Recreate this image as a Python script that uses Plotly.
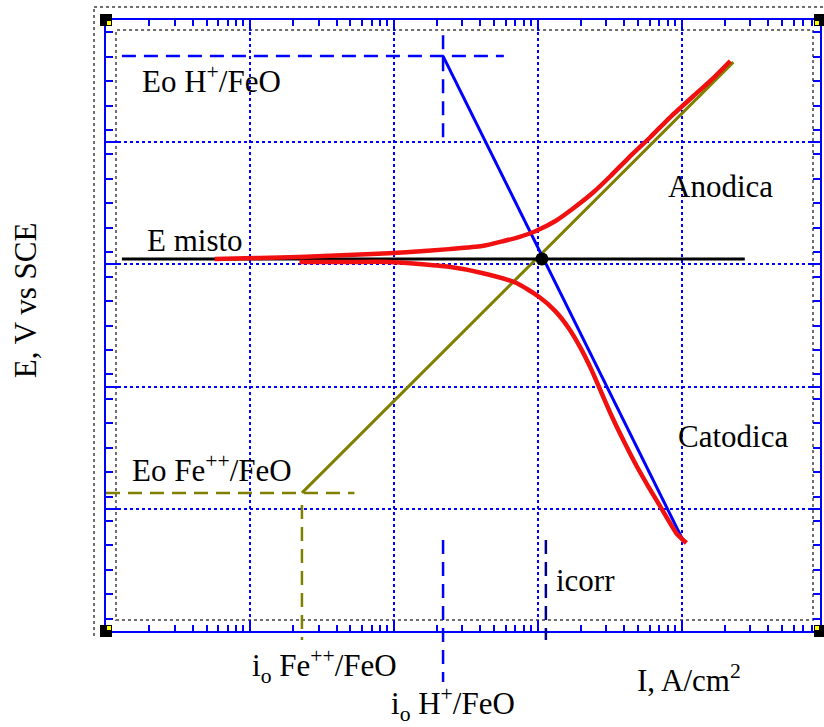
import plotly.graph_objects as go

# ---------------- data (current density A/cm2, potential V vs SCE) ----------------
anod_i = [5.69e-9, 1.17e-8, 2.21e-8, 7.08e-8, 1.22e-7, 2.42e-7, 4.10e-7, 5.82e-7, 7.40e-7,
          9.70e-7, 1.33e-6, 1.78e-6, 2.45e-6, 3.21e-6, 4.27e-6, 6.08e-6, 8.36e-6, 1.21e-5,
          1.69e-5, 2.18e-5]
anod_E = [-0.491, -0.4895, -0.488, -0.483, -0.480, -0.475, -0.470, -0.4617, -0.4552,
          -0.4453, -0.429, -0.4077, -0.3815, -0.3553, -0.3259, -0.2915, -0.2588, -0.2244,
          -0.1933, -0.1671]

cat_i = [2.21e-8, 4.91e-8, 9.29e-8, 1.43e-7, 2.42e-7, 4.10e-7, 7.05e-7, 1.02e-6, 1.32e-6,
         1.64e-6, 1.99e-6, 2.37e-6, 2.78e-6, 3.31e-6, 4.02e-6, 4.87e-6, 5.89e-6, 7.02e-6,
         8.10e-6, 9.20e-6, 1.08e-5]
cat_E = [-0.496, -0.496, -0.496, -0.499, -0.504, -0.514, -0.530, -0.553, -0.576,
         -0.604, -0.637, -0.673, -0.7105, -0.751, -0.792, -0.830, -0.864, -0.894,
         -0.919, -0.940, -0.956]

h_tafel_i = [2.2e-7, 1.03e-5]
h_tafel_E = [-0.159, -0.953]
fe_tafel_i = [2.3e-8, 2.29e-5]
fe_tafel_E = [-0.874, -0.169]

E_mix = -0.491
E_mix_span = [1.29e-9, 2.75e-5]
i_corr = 1.07e-6
i_corr_mark = 1.14e-6

E0_H = -0.159
i0_H = 2.2e-7
E0_H_span = [1.29e-9, 5.82e-7]
E0_Fe = -0.874
i0_Fe = 2.3e-8
E0_Fe_span = [1.0e-9, 5.32e-8]

x_range_log = [-9, -4.038]
y_range = [-1.1, -0.1]

BLUE = "#0000ff"
OLIVE = "#808000"
RED = "#f01010"
NAVY = "#00008b"
GRAY = "#6e6e6e"
FONT = "Liberation Serif, Times New Roman, serif"

# plot area geometry (pixels)
W, H = 824, 727
ML, MR, MT, MB = 106, 2, 20, 96
PW = W - ML - MR
PH = H - MT - MB


def px(xp):
    return (xp - ML) / PW


def py(yp):
    return (H - MB - yp) / PH


fig = go.Figure()

# Tafel lines
fig.add_trace(go.Scatter(x=fe_tafel_i, y=fe_tafel_E, mode="lines",
                         line=dict(color=OLIVE, width=3), showlegend=False))
fig.add_trace(go.Scatter(x=h_tafel_i, y=h_tafel_E, mode="lines",
                         line=dict(color=BLUE, width=3), showlegend=False))
# mixed potential line
fig.add_trace(go.Scatter(x=E_mix_span, y=[E_mix, E_mix], mode="lines",
                         line=dict(color="black", width=3), showlegend=False))
# polarization curves
fig.add_trace(go.Scatter(x=anod_i, y=anod_E, mode="lines",
                         line=dict(color=RED, width=4.5, shape="spline", smoothing=0.6),
                         showlegend=False))
fig.add_trace(go.Scatter(x=cat_i, y=cat_E, mode="lines",
                         line=dict(color=RED, width=4.5, shape="spline", smoothing=0.6),
                         showlegend=False))
# corrosion point
fig.add_trace(go.Scatter(x=[i_corr], y=[E_mix], mode="markers",
                         marker=dict(color="black", size=13), showlegend=False))

dash = "14px,8px"
shapes = [
    # Eo H+ horizontal
    dict(type="line", xref="x", yref="y", x0=E0_H_span[0], x1=E0_H_span[1], y0=E0_H, y1=E0_H,
         line=dict(color=BLUE, width=2.5, dash=dash)),
    # io H+ vertical (top part)
    dict(type="line", xref="x", yref="y", x0=i0_H, x1=i0_H, y0=-0.125, y1=-0.296,
         line=dict(color=BLUE, width=2.5, dash=dash)),
    # io H+ vertical (bottom part, below axis)
    dict(type="line", xref="x", yref="paper", x0=i0_H, x1=i0_H, y0=py(540), y1=py(682),
         line=dict(color=BLUE, width=2.5, dash=dash)),
    # Eo Fe++ horizontal
    dict(type="line", xref="x", yref="y", x0=E0_Fe_span[0], x1=E0_Fe_span[1], y0=E0_Fe, y1=E0_Fe,
         line=dict(color=OLIVE, width=2.5, dash=dash)),
    # io Fe++ vertical
    dict(type="line", xref="x", yref="paper", x0=i0_Fe, x1=i0_Fe, y0=py(505), y1=py(640),
         line=dict(color=OLIVE, width=2.5, dash=dash)),
    # icorr vertical
    dict(type="line", xref="x", yref="paper", x0=i_corr_mark, x1=i_corr_mark, y0=py(540), y1=py(640),
         line=dict(color=NAVY, width=2.5, dash=dash)),
    # inner gray dotted frame
    dict(type="rect", xref="paper", yref="paper", x0=px(116), x1=px(815), y0=py(620), y1=py(30),
         line=dict(color=GRAY, width=2, dash="dot"), layer="below"),
    # outer gray dotted border (left + top)
    dict(type="line", xref="paper", yref="paper", x0=px(94), x1=px(94), y0=py(636), y1=py(7),
         line=dict(color=GRAY, width=2, dash="dot")),
    dict(type="line", xref="paper", yref="paper", x0=px(94), x1=px(830), y0=py(7), y1=py(7),
         line=dict(color=GRAY, width=2, dash="dot")),
]
# corner markers
for cx, cy, sx, sy in [(0, 0, 1, 1), (0, 1, 1, -1), (1, 0, -1, 1), (1, 1, -1, -1)]:
    shapes.append(dict(type="rect", xref="paper", yref="paper", xsizemode="pixel", ysizemode="pixel",
                       xanchor=cx, yanchor=cy, x0=-6, x1=6, y0=-6, y1=6,
                       fillcolor="black", line=dict(width=0)))
    shapes.append(dict(type="rect", xref="paper", yref="paper", xsizemode="pixel", ysizemode="pixel",
                       xanchor=cx, yanchor=cy, x0=min(1 * sx, 5 * sx), x1=max(1 * sx, 5 * sx),
                       y0=min(1 * sy, 5 * sy), y1=max(1 * sy, 5 * sy),
                       fillcolor="#ffff00", line=dict(width=0)))

tf = dict(family=FONT, size=31, color="black")
ann = [
    dict(text="Eo H<sup>+</sup>/FeO", x=px(140), y=py(80)),
    dict(text="E misto", x=px(145), y=py(240)),
    dict(text="Eo Fe<sup>++</sup>/FeO", x=px(130), y=py(468)),
    dict(text="Anodica", x=px(668), y=py(186)),
    dict(text="Catodica", x=px(678), y=py(436)),
    dict(text="icorr", x=px(555), y=py(580)),
    dict(text="i<sub>o</sub> Fe<sup>++</sup>/FeO", x=px(250), y=py(666)),
    dict(text="i<sub>o</sub> H<sup>+</sup>/FeO", x=px(390), y=py(704)),
    dict(text="I, A/cm<sup>2</sup>", x=px(636), y=py(678)),
]
annotations = []
for a in ann:
    annotations.append(dict(text=a["text"], x=a["x"], y=a["y"], xref="paper", yref="paper",
                            xanchor="left", yanchor="middle", showarrow=False, font=tf))
annotations.append(dict(text="E, V vs SCE", x=px(25), y=py(300), xref="paper", yref="paper",
                        xanchor="center", yanchor="middle", textangle=-90, showarrow=False, font=tf))

axis_common = dict(showline=True, linecolor=BLUE, linewidth=2, mirror="ticks",
                   ticks="inside", tickcolor=BLUE, tickwidth=2, showticklabels=False,
                   showgrid=True, gridcolor=BLUE, gridwidth=1.5, griddash="dot", zeroline=False)

fig.update_layout(
    width=W, height=H,
    margin=dict(l=ML, r=MR, t=MT, b=MB, pad=0),
    paper_bgcolor="white", plot_bgcolor="white",
    xaxis=dict(type="log", range=x_range_log, dtick=1, ticklen=11,
               minor=dict(ticks="inside", ticklen=6, tickcolor=BLUE, tickwidth=1.5, dtick="D1", showgrid=False),
               **axis_common),
    yaxis=dict(range=y_range, dtick=0.2, tick0=-0.1, ticklen=12,
               minor=dict(ticks="inside", ticklen=7, tickcolor=BLUE, tickwidth=1.5, dtick=0.04, showgrid=False),
               **axis_common),
    shapes=shapes,
    annotations=annotations,
    showlegend=False,
)

fig.write_html("out.html")
